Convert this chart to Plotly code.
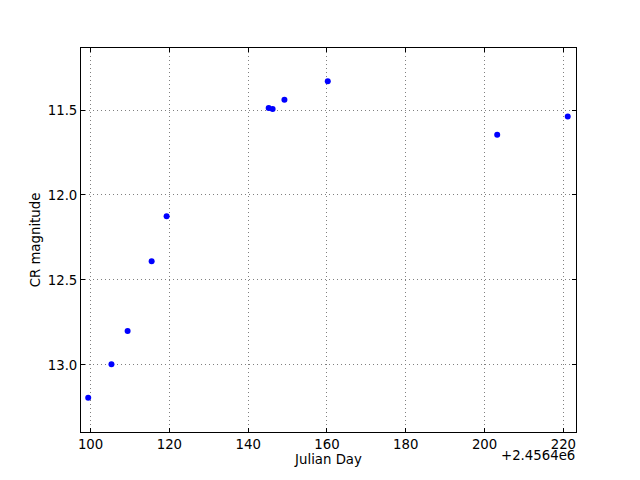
import plotly.graph_objects as go

JD_OFFSET = 2456400
julian_day = [2456499.4, 2456505.3, 2456509.4, 2456515.5, 2456519.3,
              2456545.2, 2456546.2, 2456549.2, 2456560.2, 2456603.2, 2456621.1]
cr_mag = [13.194, 12.996, 12.80, 12.39, 12.125,
          11.488, 11.494, 11.44, 11.33, 11.645, 11.538]
x_ticks = [100, 120, 140, 160, 180, 200, 220]
y_ticks = [11.5, 12.0, 12.5, 13.0]

xs = [d - JD_OFFSET for d in julian_day]

fig = go.Figure()
fig.add_trace(go.Scatter(x=xs, y=cr_mag, mode="markers",
                         marker=dict(color="#0000ff", size=6, line=dict(width=0))))

font = dict(family="DejaVu Sans", size=13.3, color="black")
grid = dict(showgrid=True, gridcolor="#808080", griddash="1px,3px", gridwidth=1,
            showline=True, linecolor="black", linewidth=1, mirror="ticks",
            ticks="inside", ticklen=4, tickcolor="black", zeroline=False,
            tickfont=font, automargin=False)
fig.update_xaxes(range=[97.57, 223.2], tickvals=x_ticks,
                 ticktext=[str(t) for t in x_ticks],
                 title=dict(text="Julian Day", font=font, standoff=0), **grid)
fig.update_yaxes(range=[13.395, 11.135], tickvals=y_ticks,
                 ticktext=[f"{t:.1f}" for t in y_ticks],
                 title=dict(text="CR magnitude", font=font, standoff=4), **grid)
fig.add_annotation(text="+2.4564e6", xref="paper", yref="paper", x=1.0, y=0,
                   xanchor="right", yanchor="top", yshift=-15, showarrow=False,
                   borderpad=0, font=font)
fig.update_layout(width=640, height=480, showlegend=False,
                  plot_bgcolor="white", paper_bgcolor="white",
                  margin=dict(l=72.7, r=71.7, t=40.3, b=56, pad=0))
fig.write_html("out.html")
